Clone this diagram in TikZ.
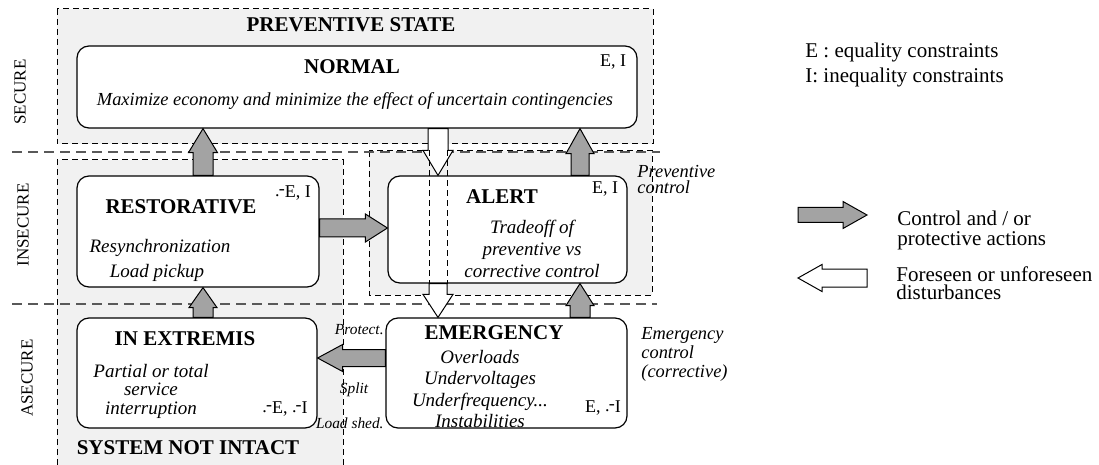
\documentclass[tikz,border=0pt]{standalone}
\usepackage{fontspec}
\setmainfont{Liberation Serif}
\usetikzlibrary{calc}

\definecolor{regfill}{gray}{0.945}
\definecolor{arrgray}{gray}{0.64}
\newcommand{\negmk}{\raisebox{0.1ex}{.}\kern-0.05em\raisebox{0.4ex}{-}}

\tikzset{
  ashaft/.store in=\ashaft, ahead/.store in=\ahead, alen/.store in=\alen,
  ashaft=5pt, ahead=7.25pt, alen=12pt,
  blockarr/.style={draw=black, line width=0.5pt, line join=miter,
    to path={let \p1=(\tikztostart), \p2=(\tikztotarget),
      \n1={atan2(\y2-\y1,\x2-\x1)}, \n2={veclen(\x2-\x1,\y2-\y1)} in
      [shift={(\p1)}, rotate=\n1]
      (0pt,-\ashaft) -- ({\n2-\alen},-\ashaft) -- ({\n2-\alen},-\ahead)
      -- ({\n2+0pt},0pt) -- ({\n2-\alen},\ahead) -- ({\n2-\alen},\ashaft)
      -- (0pt,\ashaft) -- cycle}}
}

\begin{document}
\begin{tikzpicture}[
  x=0.5pt, y=-0.5pt,
  box/.style={draw, rounded corners=6pt, fill=white, line width=0.6pt, inner sep=0pt},
  ttl/.style={font=\fontsize{10.5}{12}\selectfont\bfseries, inner sep=0pt},
  body/.style={font=\fontsize{9.5}{11}\selectfont\itshape, align=center, inner sep=0pt},
  cons/.style={font=\fontsize{9}{10}\selectfont, inner sep=0pt},
  note/.style={font=\fontsize{9.2}{8}\selectfont\itshape, align=left, inner sep=0pt, anchor=west},
  tag/.style={font=\fontsize{7.7}{9}\selectfont\itshape, inner sep=0pt},
  lvl/.style={font=\fontsize{8.5}{10}\selectfont, rotate=90, inner sep=0pt},
  leg/.style={font=\fontsize{10.5}{12}\selectfont, align=left, inner sep=0pt, anchor=west},
  regline/.style={dash pattern=on 3pt off 2pt, line width=0.5pt},
  sep/.style={dash pattern=on 5pt off 3pt, line width=0.7pt, draw=black!65},
  grayarr/.style={blockarr, fill=arrgray},
  whitearr/.style={blockarr, fill=white}
]
  \useasboundingbox (0,0) rectangle (1099,465);

  % shaded regions
  \fill[regfill] (57,9) rectangle (653,144);
  \draw[regline] (57,9) rectangle (653,144);
  \fill[regfill] (369,151) rectangle (652,295);
  \draw[regline] (369,151) rectangle (652,295);
  \fill[regfill] (57,160) rectangle (343,465);
  \draw[regline] (57,465) -- (57,160) -- (343,160) -- (343,465);

  % security levels
  \draw[sep] (12,152) -- (660,152);
  \draw[sep] (12,304) -- (657,304);
  \node[lvl] (secure) at (20,92) {SECURE};
  \node[lvl] (insecure) at (23,225) {INSECURE};
  \node[lvl] (asecure) at (27,378) {ASECURE};

  \node[ttl] (prevst) at (351,25) {PREVENTIVE STATE};
  \node[ttl] (notint) at (188,448) {SYSTEM NOT INTACT};

  % states
  \node[box, minimum width=280pt, minimum height=41pt] (norm) at (357,87) {};
  \node[box, minimum width=121pt, minimum height=55.5pt] (rest) at (198,231.5) {};
  \node[box, minimum width=119.5pt, minimum height=53.5pt] (alert) at (507.5,229.5) {};
  \node[box, minimum width=120pt, minimum height=55pt] (extr) at (197,373) {};
  \node[box, minimum width=120.5pt, minimum height=55pt] (emer) at (506.5,373) {};

  \node[ttl] (normt) at (352,67) {NORMAL};
  \node[cons] (normc) at (613,62) {E, I};
  \node[body, font=\fontsize{9.2}{11}\selectfont\itshape] (normb) at (355,101)
    {Maximize economy and minimize the effect of uncertain contingencies};

  \node[ttl] (restt) at (181,207) {RESTORATIVE};
  \node[cons] (restc) at (293,193) {\negmk E, I};
  \node[body] (restb1) at (160,248) {Resynchronization};
  \node[body] (restb2) at (157,273) {Load pickup};

  \node[ttl] (alertt) at (502,197) {ALERT};
  \node[cons] (alertc) at (605,189) {E, I};
  \node[body] (alertb) at (532,249) {Tradeoff of\\preventive vs\\corrective control};
  \node[note] (prevctl) at (637,179) {Preventive\\control};

  \node[ttl] (extrt) at (185,339) {IN EXTREMIS};
  \node[body, font=\fontsize{9.5}{9.25}\selectfont\itshape] (extrb) at (151,391)
    {Partial or total\\service\\interruption};
  \node[cons] (extrc) at (285,409) {\negmk E, \negmk I};

  \node[ttl] (emert) at (494,333) {EMERGENCY};
  \node[body, font=\fontsize{9.5}{10.6}\selectfont\itshape] (emerb) at (480,389)
    {Overloads\\Undervoltages\\Underfrequency...\\Instabilities};
  \node[cons] (emerc) at (603,408) {E, \negmk I};
  \node[note, font=\fontsize{9.2}{9.5}\selectfont\itshape] (emerctl) at (641,354)
    {Emergency\\control\\(corrective)};

  \node[tag, anchor=east] (protect) at (384,330) {Protect.};
  \node[tag] (split) at (354,390) {Split};
  \node[tag, anchor=east] (shed) at (384,423) {Load shed.};

  % arrow columns and rows
  \coordinate (colL) at (203,0);
  \coordinate (colD) at (438,0);
  \coordinate (colR) at (580,0);
  \coordinate (rowA) at (0,228);
  \coordinate (rowE) at (0,358);

  % control actions
  \draw[grayarr, ashaft=5pt, ahead=7.25pt, alen=12pt] (rest.north -| colL) to (norm.south -| colL);
  \draw[grayarr, ashaft=5pt, ahead=7pt, alen=10pt] (extr.north -| colL) to (rest.south -| colL);
  \draw[grayarr, ashaft=4.5pt, ahead=7pt, alen=12.5pt] (alert.north -| colR) to (norm.south -| colR);
  \draw[grayarr, ashaft=5pt, ahead=7pt, alen=11pt] (emer.north -| colR) to (alert.south -| colR);
  \draw[grayarr, ashaft=4.5pt, ahead=7pt, alen=11pt] (rest.east |- rowA) to (alert.west |- rowA);
  \draw[grayarr, ashaft=4.25pt, ahead=6.75pt, alen=12.5pt] (emer.west |- rowE) to (extr.east |- rowE);

  % disturbances
  \draw[whitearr, ashaft=5pt, ahead=7.5pt, alen=12.5pt] (norm.south -| colD) to (alert.north -| colD);
  \draw[whitearr, ashaft=4.5pt, ahead=7.5pt, alen=11.5pt] (alert.south -| colD) to (emer.north -| colD);
  \draw[regline] ($(alert.north -| colD)+(-4.5pt,12.5pt)$) -- ($(alert.south -| colD)+(-4.5pt,0pt)$);
  \draw[regline] ($(alert.north -| colD)+(4.5pt,12.5pt)$) -- ($(alert.south -| colD)+(4.5pt,0pt)$);

  % legend
  \node[leg] (legE) at (805,52) {E : equality constraints};
  \node[leg] (legI) at (805,77) {I: inequality constraints};
  \coordinate (lgA) at (798,215);
  \coordinate (lgB) at (867,215);
  \coordinate (lgC) at (867,278);
  \coordinate (lgD) at (798,278);
  \draw[grayarr, ashaft=3.75pt, ahead=6.75pt, alen=12pt] (lgA) to (lgB);
  \draw[whitearr, ashaft=4.5pt, ahead=6.75pt, alen=12pt] (lgC) to (lgD);
  \node[leg, font=\fontsize{10.5}{10}\selectfont] (legctl) at (897,230)
    {Control and / or\\protective actions};
  \node[leg, font=\fontsize{10.5}{8.8}\selectfont] (legdist) at (896,283)
    {Foreseen or unforeseen\\disturbances};
\end{tikzpicture}
\end{document}
